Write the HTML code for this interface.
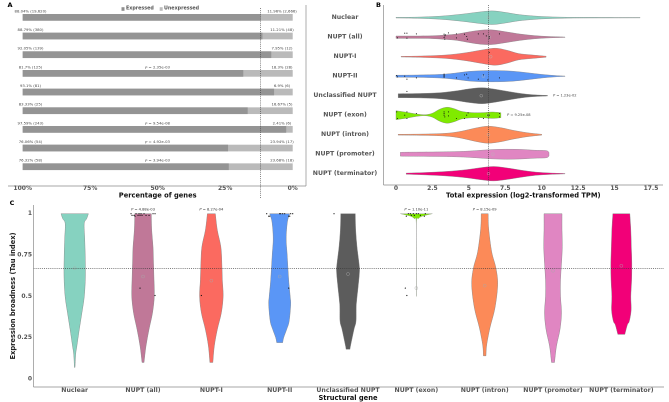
<!DOCTYPE html>
<html lang="en">
<head>
<meta charset="utf-8">
<title>NUPT expression chart</title>
<style>
html,body{margin:0;padding:0;background:#fff;}
svg{display:block;font-family:"DejaVu Sans","Liberation Sans",sans-serif;filter:blur(.25px);}
</style>
</head>
<body>
<svg id="figure" width="669" height="402" viewBox="0 0 669 402" xmlns="http://www.w3.org/2000/svg"></svg>
<script>
/* ---------- shared categories ---------- */
const categories = ['Nuclear','NUPT (all)','NUPT-I','NUPT-II','Unclassified NUPT','NUPT (exon)','NUPT (intron)','NUPT (promoter)','NUPT (terminator)'];
const seriesColors = ['#86d2c0','#c07898','#fb6a60','#5a96f6','#5c5c5c','#80ea00','#fc8a58','#e086c2','#f20078'];

/* ---------- panel A ---------- */
const expressedPct = [88.04,88.79,92.05,81.7,93.1,83.33,97.59,76.06,76.32];
const expressedLabels = ['88.04% (19,620)','88.79% (380)','92.05% (139)','81.7% (125)','93.1% (81)','83.33% (25)','97.59% (243)','76.06% (54)','76.32% (58)'];
const unexpressedLabels = ['11.96% (2,666)','11.21% (48)','7.95% (12)','18.3% (28)','6.9% (6)','16.67% (5)','2.41% (6)','23.94% (17)','23.68% (18)'];
const pctPValues = ['','','','P = 2.35e-03','','','P = 9.54e-08','P = 4.92e-03','P = 3.94e-03'];
const pctTicks = [100,75,50,25,0];
const pctReference = 88.04;

/* ---------- panel B: [TPM value, density] ---------- */
const tpmNuclear = [[0,.3],[1.5,.6],[3,1.5],[4.5,3.5],[5.6,5.5],[6.6,6.8],[7.5,5.3],[8.5,3],[10,1.2],[11.5,.5],[13,.3],[16.75,.2]];
const tpmAll = [[0,1.2],[1.5,1.2],[2.5,1.4],[3.4,2.2],[4.2,3.2],[5,5.3],[5.8,7],[6.6,7.3],[7.5,5.5],[8.5,3.2],[9.5,1.6],[10.5,.7],[11.6,.2]];
const tpmOne = [[.35,.3],[2,.8],[3.5,1.8],[4.8,4],[5.8,6.5],[6.8,8.5],[7.6,6.5],[8.4,3.2],[9.3,1.8],[10.3,.5]];
const tpmTwo = [[0,1],[1.5,1.2],[3,1.8],[4,3],[5,4.8],[6,5.5],[7,5.6],[8,5],[9,3.5],[10,1.8],[11,.6],[11.6,.2]];
const tpmUnclassified = [[.15,2],[1.5,2.2],[3,3],[4.2,5],[5,6.8],[5.9,8],[6.8,6.5],[7.8,4],[8.8,1.8],[9.6,.8],[10.4,.3]];
const tpmExon = [[0,4.5],[.7,3],[1.4,1.2],[2,.5],[2.5,2],[3,6],[3.5,8],[4,6.5],[4.5,3.8],[5.2,2.6],[6,2.6],[6.6,3.2],[7.2,2.5]];
const tpmIntron = [[.15,.4],[2,.7],[3.5,1.5],[4.5,3.5],[5.4,6.5],[6.3,8.5],[7.2,7],[8,4.5],[9,2],[10,.4]];
const tpmPromoter = [[.3,1.8],[.6,2],[3,2.3],[4.5,2.8],[5.5,3.6],[6.5,4.6],[7.5,5],[8.5,4.8],[9.5,4],[10.3,3.6],[10.5,1.8]];
const tpmTerminator = [[.7,.6],[2,1.2],[3.5,2.3],[4.8,4],[5.8,6],[6.7,7.2],[7.6,5.8],[8.6,3.5],[9.6,1.6],[10.6,.7],[11.6,.2]];
const tpmMeans = [6.35,6.4,6.5,6.0,5.85,6.3,6.35,6.65,6.35];
const tpmTicks = [0,2.5,5,7.5,10,12.5,15,17.5];
const tpmReference = 6.35;
const tpmPValues = ['','','','','P = 1.23e-02','P = 9.25e-08','','',''];
/* strip points: [TPM value, jitter] */
const tpmPointsAll = [[.1,.7],[.6,-4],[.75,-4],[.75,1],[1.4,-3.3],[3.3,-3],[3.35,-1.3],[3.3,.3],[3.35,2],[3.4,-2.3],[3.6,-4.3],[4.15,-3.3],[4.15,.7],[4.7,-3],[4.85,-.7],[4.9,2],[5.65,-3.3],[6,-3.3],[6.2,-1.3],[6.4,-.7],[6.4,1],[7.1,-3.3]];
const tpmPointsOne = [[6.4,-4.3]];
const tpmPointsTwo = [[.05,-.7],[.1,.7],[.6,0],[.75,3],[1.4,1.7],[3.3,-2],[3.3,-1],[3.3,0],[3.3,1],[4.15,1.7],[4.7,-1.3],[4.85,-2],[4.95,1.7],[5.65,3],[6,-1.3],[6.3,3.7],[7.1,1.7]];
const tpmPointsUnclassified = [[.75,-4.3]];
const tpmPointsExon = [[.05,-3.3],[.1,3.3],[.6,0],[.75,-3.3],[.75,3.3],[1.4,-1.7],[3.3,-3.3],[3.3,-1.7],[3.3,0],[3.35,1.7],[3.6,-3.3],[3.6,.7],[4.15,3.3],[4.7,3.3],[4.85,0],[4.95,-2.3],[5.65,3.3],[6,3.3],[6.3,0],[6.4,0],[7.1,-1.7],[7.1,1.7]];

/* ---------- panel C: [tau, density] ---------- */
const tauNuclear = [[1,13.7],[.97,12],[.94,9.5],[.85,10],[.75,10.5],[.62,10.7],[.5,9.6],[.4,7.2],[.3,4.6],[.2,2.2],[.15,1],[.07,.3]];
const tauAll = [[1,8.3],[.9,8.7],[.8,10],[.7,10.5],[.6,11],[.5,11.3],[.4,9.5],[.3,6],[.2,3],[.1,1]];
const tauOne = [[1,4],[.9,6],[.8,9.5],[.7,10.5],[.6,11],[.5,11.8],[.4,10],[.3,6],[.2,3],[.1,1.5]];
const tauTwo = [[1,10],[.95,7.7],[.85,6.5],[.75,7.5],[.6,9],[.5,10.5],[.45,11],[.35,9.5],[.3,7],[.25,4],[.22,3]];
const tauUnclassified = [[1,7.3],[.9,7.7],[.8,9],[.7,11],[.65,11.5],[.55,10],[.45,8.3],[.35,8],[.3,6],[.2,2.5],[.18,2]];
const tauExon = [[1,16],[.985,6],[.97,2],[.95,.15],[.7,.1],[.5,.1]];
const tauIntron = [[1,3.5],[.91,4],[.77,7],[.67,11.3],[.57,13],[.43,10.3],[.31,5.3],[.205,2],[.14,1.3]];
const tauPromoter = [[1,9],[.9,9],[.8,9.3],[.7,8.5],[.6,7.5],[.5,7.5],[.4,8.5],[.3,7],[.2,3.5],[.1,1.5]];
const tauTerminator = [[1,8.5],[.9,9.5],[.8,10],[.7,10.5],[.6,10.3],[.5,9.5],[.417,9.8],[.35,8],[.327,6],[.27,3.5]];
const tauMeans = [.67,.62,.595,.62,.635,.55,.565,.655,.685];
const tauTicks = [1,.75,.5,.25,0];
const tauTickLabels = ['1','0.75','0.5','0.25','0'];
const tauReference = .669;
const tauPValues = ['','P = 4.88e-03','P = 8.27e-04','','','P = 1.10e-11','P = 8.15e-09','',''];
/* strip points: [jitter, tau] */
const tauPointsAll = [[-12,1],[-11,.99],[-9,.99],[-8,.985],[-7,1],[-5,.99],[-4,1],[-3,.99],[-2,1],[-1,.99],[1,1],[3,.99],[6,.99],[10,1],[12,1],[-3,.55],[12,.505]];
const tauPointsOne = [[-10,.505]];
const tauPointsTwo = [[-13,1],[-11,.985],[-10,.985],[0,1],[1,1],[3,1],[5,1],[9,.985],[10,.985],[11,1],[13,1],[9,.55]];
const tauPointsUnclassified = [[-14,1]];
const tauPointsExon = [[-10,.985],[-8,1],[-6,1],[-5,.99],[-3,1],[-2,.99],[0,1],[2,1],[4,.99],[8,.985],[9,1],[-11,.55],[-9.5,.505]];

const tpmProfiles = [tpmNuclear,tpmAll,tpmOne,tpmTwo,tpmUnclassified,tpmExon,tpmIntron,tpmPromoter,tpmTerminator];
const tauProfiles = [tauNuclear,tauAll,tauOne,tauTwo,tauUnclassified,tauExon,tauIntron,tauPromoter,tauTerminator];
const tpmPoints = [[],tpmPointsAll,tpmPointsOne,tpmPointsTwo,tpmPointsUnclassified,tpmPointsExon,[],[],[]];
const tauPoints = [[],tauPointsAll,tauPointsOne,tauPointsTwo,tauPointsUnclassified,tauPointsExon,[],[],[]];

/* ---------- axis functions ---------- */
const pctX = p => 292.7 - 2.7 * p;
const rowA = i => 14 + 18.67 * i;
const tpmX = v => 396 + 14.57 * v;
const rowB = i => 17.7 + 19.5 * i;
const tauY = t => 379 - 165.3 * t;
const colC = i => 74.7 + 68.33 * i;

const svg = document.getElementById('figure');
const NS = 'http://www.w3.org/2000/svg';
function mk(tag, attrs, parent) {
  const el = document.createElementNS(NS, tag);
  for (const k in attrs) el.setAttribute(k, attrs[k]);
  (parent || svg).appendChild(el);
  return el;
}
function txt(content, x, y, size, weight, fill, anchor, parent) {
  const el = mk('text', {x:x, y:y, 'font-size':size, 'font-weight':weight, fill:fill, 'text-anchor':anchor, 'dominant-baseline':'central'}, parent);
  el.textContent = content;
  return el;
}
function pTxt(content, x, y, size, fill, anchor, parent) {
  const el = txt('', x, y, size, 'normal', fill, anchor, parent);
  const ital = mk('tspan', {'font-style':'italic'}, el);
  ital.textContent = content.charAt(0);
  el.appendChild(document.createTextNode(content.slice(1)));
  return el;
}
function slug(s) { return s.toLowerCase().replace(/[^a-z0-9]+/g,'-').replace(/^-|-$/g,''); }
function smooth(pts) {
  let d = '';
  for (let i = 0; i < pts.length - 1; i++) {
    const p0 = pts[Math.max(i-1,0)], p1 = pts[i], p2 = pts[i+1], p3 = pts[Math.min(i+2,pts.length-1)];
    const c1 = [p1[0]+(p2[0]-p0[0])/6, p1[1]+(p2[1]-p0[1])/6];
    const c2 = [p2[0]-(p3[0]-p1[0])/6, p2[1]-(p3[1]-p1[1])/6];
    d += 'C'+c1[0].toFixed(2)+' '+c1[1].toFixed(2)+' '+c2[0].toFixed(2)+' '+c2[1].toFixed(2)+' '+p2[0].toFixed(2)+' '+p2[1].toFixed(2);
  }
  return d;
}

const AXIS = '#8a8a8a', TICK = '#555', DOT = '#333';

/* ---------- panel A ---------- */
const gA = mk('g', {});


const letterA = txt('A', 10, 5, 6.5, 'bold', '#000', 'middle', gA);



const legendSwatch1 = mk('rect', {x:121.5, y:7.2, width:3, height:3.6, fill:'#8f8f8f'}, gA);


const legendText1 = txt('Expressed', 126, 9, 4.8, 'bold', '#555', 'start', gA);


const legendSwatch2 = mk('rect', {x:159.7, y:7.2, width:3, height:3.6, fill:'#bcbcbc'}, gA);


const legendText2 = txt('Unexpressed', 164, 9, 4.8, 'bold', '#555', 'start', gA);



expressedPct.forEach((p, i) => {
  const y = rowA(i);
  const track = mk('rect', {x:pctX(100), y:y, width:pctX(0)-pctX(100), height:6.7, fill:'#bababa'}, gA);
  
  
  const bar = mk('rect', {x:pctX(100), y:y, width:pctX(100-p)-pctX(100), height:6.7, fill:'#949494'}, gA);
  
  
  const l = txt(expressedLabels[i], 30.5, y-3.2, 3.8, 'normal', '#444', 'middle', gA);
  
  
  const r = txt(unexpressedLabels[i], 282, y-3.2, 3.8, 'normal', '#444', 'middle', gA);
  
  
  if (pctPValues[i]) {
    const t = pTxt(pctPValues[i], 157.5, y-3.2, 3.8, '#444', 'middle', gA);
    
    
  }
});
const refA = mk('line', {x1:pctX(100-pctReference), x2:pctX(100-pctReference), y1:8, y2:198, stroke:DOT, 'stroke-width':.6, 'stroke-dasharray':'1 1.1'}, gA);


const axisAx = mk('line', {x1:8, x2:306, y1:186, y2:186, stroke:AXIS, 'stroke-width':.7}, gA);


const axisAy = mk('line', {x1:306, x2:306, y1:5, y2:186, stroke:AXIS, 'stroke-width':.7}, gA);


pctTicks.forEach(v => {
  const t = txt(v + '%', pctX(v), 188.5, 6, 'bold', TICK, 'middle', gA);
  
  
});
const titleA = txt('Percentage of genes', 157.7, 195.7, 6.7, 'bold', '#111', 'middle', gA);



/* ---------- panel B ---------- */
const gB = mk('g', {});


const letterB = txt('B', 378.5, 5, 6.5, 'bold', '#000', 'middle', gB);


tpmProfiles.forEach((prof, i) => {
  const cy = rowB(i);
  const top = prof.map(d => [tpmX(d[0]), cy - d[1]]);
  const bot = prof.map(d => [tpmX(d[0]), cy + d[1]]).reverse();
  const d = 'M' + top[0][0] + ' ' + top[0][1] + smooth(top) + 'L' + bot[0][0] + ' ' + bot[0][1] + smooth(bot) + 'Z';
  const v = mk('path', {d:d, fill:seriesColors[i], stroke:'#7a7a7a', 'stroke-width':.35}, gB);
  
  
  const m = mk('circle', {cx:tpmX(tpmMeans[i]), cy:cy, r:1.4, fill:'none', stroke:'#b8b8b8', 'stroke-width':.4}, gB);
  
  
  tpmPoints[i].forEach(pt => {
    const c = mk('circle', {cx:tpmX(pt[0]), cy:cy + pt[1], r:.55, fill:'#111'}, gB);
    
    
  });
  const lab = txt(categories[i], 345, cy, 6.2, 'bold', TICK, 'middle', gB);
  
  
  if (tpmPValues[i]) {
    const p = pTxt(tpmPValues[i], i === 4 ? 553 : 507, cy, 3.6, '#444', 'start', gB);
    
    
  }
});
const refB = mk('line', {x1:tpmX(tpmReference), x2:tpmX(tpmReference), y1:5, y2:185, stroke:DOT, 'stroke-width':.6, 'stroke-dasharray':'1 1.1'}, gB);


const axisBy = mk('line', {x1:383.5, x2:383.5, y1:5, y2:185, stroke:AXIS, 'stroke-width':.7}, gB);


const axisBx = mk('line', {x1:383.5, x2:663, y1:185, y2:185, stroke:AXIS, 'stroke-width':.7}, gB);


tpmTicks.forEach(v => {
  const t = txt(String(v), tpmX(v), 188.5, 6, 'bold', TICK, 'middle', gB);
  
  
});
const titleB = txt('Total expression (log2-transformed TPM)', 523.3, 195.6, 6.7, 'bold', '#111', 'middle', gB);



/* ---------- panel C ---------- */
const gC = mk('g', {});


const letterC = txt('C', 12, 203, 6.5, 'bold', '#000', 'middle', gC);


tauProfiles.forEach((prof, i) => {
  const cx = colC(i);
  const left = prof.map(d => [cx - d[1], tauY(d[0])]);
  const right = prof.map(d => [cx + d[1], tauY(d[0])]).reverse();
  const d = 'M' + left[0][0] + ' ' + left[0][1] + smooth(left) + 'L' + right[0][0] + ' ' + right[0][1] + smooth(right) + 'Z';
  const v = mk('path', {d:d, fill:seriesColors[i], stroke:i === 5 ? '#999' : '#808080', 'stroke-width':.4}, gC);
  
  
  const m = mk('circle', {cx:cx, cy:tauY(tauMeans[i]), r:1.5, fill:'none', stroke:'#a8a8a8', 'stroke-width':.4}, gC);
  
  
  tauPoints[i].forEach(pt => {
    const c = mk('circle', {cx:cx + pt[0], cy:tauY(pt[1]), r:.6, fill:'#111'}, gC);
    
    
  });
  const lab = txt(categories[i], cx, 390.7, 6.2, 'bold', TICK, 'middle', gC);
  
  
  if (tauPValues[i]) {
    const p = pTxt(tauPValues[i], cx, 209.3, 3.65, '#333', 'middle', gC);
    
    
  }
});
const refC = mk('line', {x1:33.5, x2:664, y1:tauY(tauReference), y2:tauY(tauReference), stroke:DOT, 'stroke-width':.6, 'stroke-dasharray':'1 1.1'}, gC);


const axisCy = mk('line', {x1:33.5, x2:33.5, y1:205, y2:387, stroke:AXIS, 'stroke-width':.7}, gC);


const axisCx = mk('line', {x1:33.5, x2:664, y1:387, y2:387, stroke:AXIS, 'stroke-width':.7}, gC);


tauTicks.forEach((v, i) => {
  const t = txt(tauTickLabels[i], 32, tauY(v), 6, 'bold', TICK, 'end', gC);
  
  
});
const titleCx = txt('Structural gene', 348, 398, 6.7, 'bold', '#111', 'middle', gC);


const titleCy = txt('Expression broadness (Tau index)', 0, 0, 6.7, 'bold', '#222', 'middle', gC);
titleCy.setAttribute('transform', 'translate(13 296) rotate(-90)');


</script>
</body>
</html>
